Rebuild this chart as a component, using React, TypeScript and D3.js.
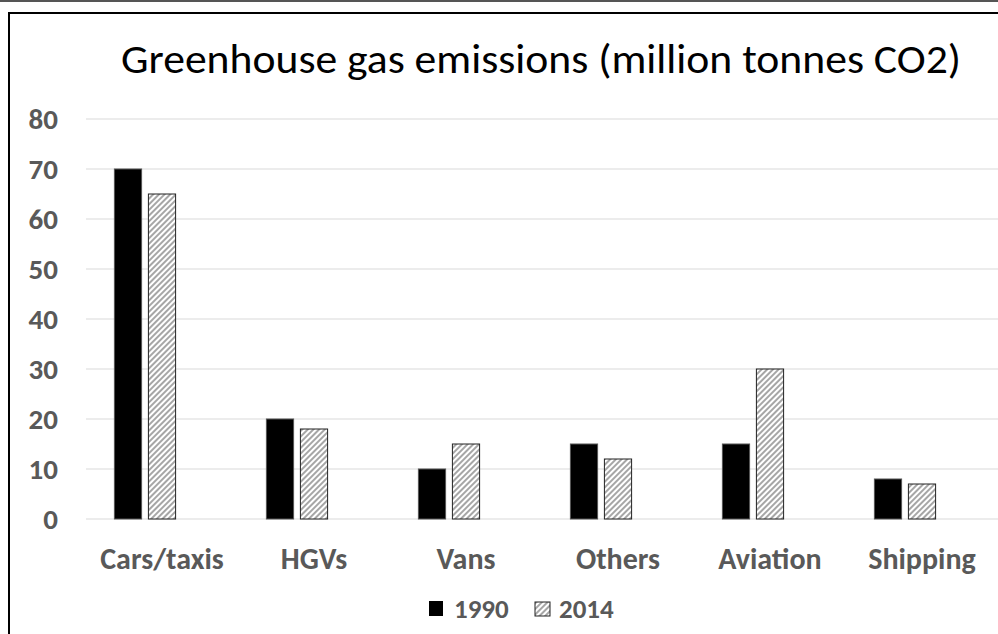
import React from 'react';
import { scaleBand, scaleLinear } from 'd3';

const width = 998;
const height = 634;

const categories = ['Cars/taxis', 'HGVs', 'Vans', 'Others', 'Aviation', 'Shipping'];
const series = ['1990', '2014'];
const values1990 = [70, 20, 10, 15, 15, 8];
const values2014 = [65, 18, 15, 12, 30, 7];
const yTicks = [0, 10, 20, 30, 40, 50, 60, 70, 80];
const title = 'Greenhouse gas emissions (million tonnes CO2)';

const margin = { left: 86, right: 0, top: 119, bottom: 519 };
const labelColor = '#595959';
const font = 'Carlito, Calibri, "Open Sans", sans-serif';

const x0 = scaleBand().domain(categories).range([margin.left, width]);
// Excel cluster leaves a third (empty) slot in each group
const x1 = scaleBand()
  .domain([...series, 'empty'])
  .range([25, 127])
  .paddingInner(0.2)
  .paddingOuter(0.1);
const y = scaleLinear().domain([0, 80]).range([margin.bottom, margin.top]);

const seriesValues = [values1990, values2014];

const App = () => {
  return (
    <svg
      width={width}
      height={height}
      style={{ position: 'absolute', left: 0, top: 0, background: '#fff' }}
    >
      <defs>
        <pattern
          id="hatch"
          width={4}
          height={4}
          patternUnits="userSpaceOnUse"
          patternTransform="rotate(45)"
        >
          <rect width={4} height={4} fill="#fff" />
          <rect width={2} height={4} fill="#a6a6a6" />
        </pattern>
      </defs>
      <rect width={width} height={height} fill="#fff" />
      <line x1={0} x2={width} y1={1} y2={1} stroke="#555" strokeWidth={2} />
      <rect x={9} y={13} width={width + 10} height={height + 10} fill="none" stroke="#000" strokeWidth={2} />

      <text
        x={541}
        y={73}
        textAnchor="middle"
        fontFamily={font}
        fontSize={41}
        textLength={840}
        lengthAdjust="spacingAndGlyphs"
        fill="#000"
      >
        {title}
      </text>

      {yTicks.map((t) => (
        <g key={t}>
          <line x1={margin.left} x2={width} y1={y(t)} y2={y(t)} stroke="#d9d9d9" strokeWidth={1} />
          <text
            x={58}
            y={y(t)}
            dy="0.35em"
            textAnchor="end"
            fontFamily={font}
            fontWeight="bold"
            fontSize={29}
            fill={labelColor}
          >
            {t}
          </text>
        </g>
      ))}

      {categories.map((c, i) => (
        <g key={c} transform={`translate(${x0(c)},0)`}>
          {series.map((s, j) => {
            const v = seriesValues[j][i];
            return (
              <rect
                key={s}
                x={x1(s)}
                y={y(v)}
                width={x1.bandwidth()}
                height={y(0) - y(v)}
                fill={j === 0 ? '#000' : 'url(#hatch)'}
                stroke={j === 0 ? '#555' : '#222'}
                strokeWidth={1}
              />
            );
          })}
          <text
            x={x0.bandwidth() / 2}
            y={558}
            dy="0.35em"
            textAnchor="middle"
            fontFamily={font}
            fontWeight="bold"
            fontSize={30}
            fill={labelColor}
          >
            {c}
          </text>
        </g>
      ))}

      <g>
        <rect x={429} y={601} width={14} height={15} fill="#000" />
        <text x={454} y={609} dy="0.35em" fontFamily={font} fontWeight="bold" fontSize={27} fill={labelColor}>
          {series[0]}
        </text>
        <rect x={535} y={602} width={15} height={14} fill="url(#hatch)" stroke="#222" strokeWidth={1} />
        <text x={559} y={609} dy="0.35em" fontFamily={font} fontWeight="bold" fontSize={27} fill={labelColor}>
          {series[1]}
        </text>
      </g>
    </svg>
  );
};

export default App;
